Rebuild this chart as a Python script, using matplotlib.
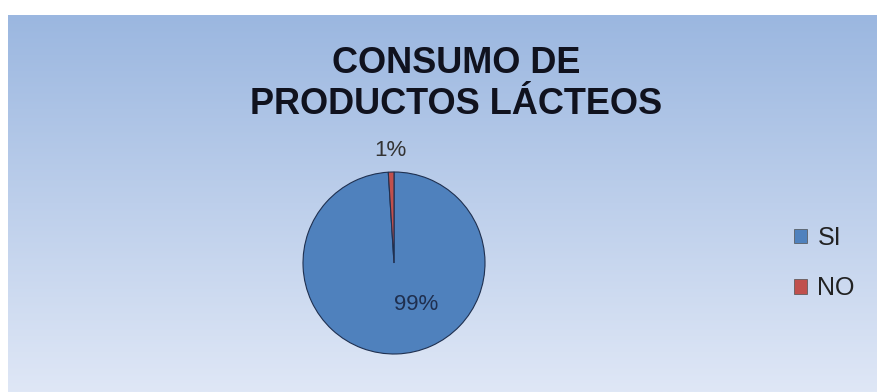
import numpy as np
import matplotlib
matplotlib.use("Agg")
import matplotlib.pyplot as plt
from matplotlib.patches import Patch

# consumo de productos lácteos (porcentaje de encuestados)
categorias = ["SI", "NO"]
porcentajes = [99, 1]
colores = ["#4F81BD", "#C0504D"]

W, H = 878, 392
fig = plt.figure(figsize=(W / 100, H / 100), dpi=100)
fig.patch.set_facecolor("white")

# fondo con degradado vertical
bg = fig.add_axes([8 / W, 0, (W - 8) / W, (H - 15) / H], zorder=0)
top = np.array([155, 183, 224]) / 255
bottom = np.array([223, 231, 246]) / 255
t = np.linspace(0, 1, 256)[:, None]
grad = top[None, :] * (1 - t) + bottom[None, :] * t
bg.imshow(grad[:, None, :], aspect="auto", extent=[0, 1, 0, 1])
bg.axis("off")

# pastel
r = 91
cx, cy = 394, 263
ax = fig.add_axes([(cx - r) / W, (H - cy - r) / H, 2 * r / W, 2 * r / H], zorder=1)
wedges, _ = ax.pie(porcentajes, colors=colores, startangle=90, counterclock=False,
                   radius=1, wedgeprops=dict(edgecolor="#1F3050", linewidth=0.8))
ax.set_xlim(-1, 1)
ax.set_ylim(-1, 1)
ax.set_aspect("equal")
ax.axis("off")

# etiquetas de porcentaje: la pequeña fuera, la grande dentro
ajustes = [(0.52, 26, "#1F2F4F"), (1.24, 0, "#333333")]
for w, p, (rad, dang, col) in zip(wedges, porcentajes, ajustes):
    ang = np.deg2rad((w.theta1 + w.theta2) / 2 + dang)
    ax.text(rad * np.cos(ang), rad * np.sin(ang), f"{p}%", ha="center", va="center",
            fontsize=16, color=col, family="Liberation Sans", clip_on=False)

fig.text(456 / W, 1 - 84 / H, "CONSUMO DE\nPRODUCTOS LÁCTEOS", ha="center", va="center",
         fontsize=26, fontweight="bold", family="Liberation Sans", color="#10121E",
         linespacing=1.2)

handles = [Patch(facecolor=c, edgecolor="#505050", linewidth=0.5) for c in colores]
leg = fig.legend(handles, categorias, loc="center left", bbox_to_anchor=(772 / W, 1 - 263 / H),
                 frameon=False, handlelength=0.52, handleheight=0.52, handletextpad=0.4,
                 labelspacing=1.05, prop={"family": "Liberation Sans", "size": 18})
for txt in leg.get_texts():
    txt.set_color("#222222")

fig.savefig("out.png", dpi=100)
